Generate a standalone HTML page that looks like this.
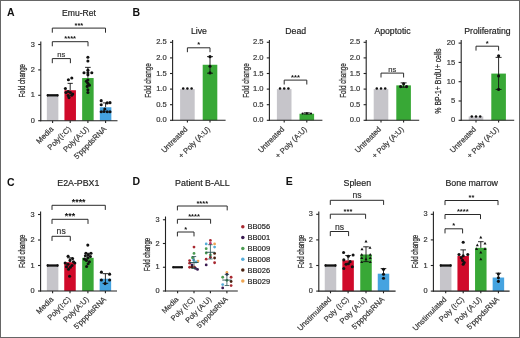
<!DOCTYPE html>
<html><head><meta charset="utf-8"><style>
html,body{margin:0;padding:0;background:#fff;overflow:hidden;width:520px;height:338px;}
#f{position:absolute;left:0;top:0;width:520px;height:338px;overflow:hidden;background:#fff;}
svg{position:absolute;left:0;top:0;will-change:transform;}
text{font-family:"Liberation Sans", sans-serif;}
</style></head><body><div id="f">
<svg width="520" height="338" viewBox="0 0 520 338" font-family='"Liberation Sans", sans-serif'>
<rect x="0" y="0" width="520" height="338" fill="#fff"/>
<rect x="46.85" y="95.30" width="11.50" height="25.40" fill="#c6c5ca"/>
<rect x="64.45" y="90.22" width="11.50" height="30.48" fill="#d00a2a"/>
<rect x="82.15" y="78.03" width="11.50" height="42.67" fill="#38a836"/>
<rect x="99.85" y="107.24" width="11.50" height="13.46" fill="#45a3e0"/>
<line x1="40.80" y1="41.50" x2="40.80" y2="121.20" stroke="#222" stroke-width="1.1"/>
<line x1="38.20" y1="120.70" x2="40.80" y2="120.70" stroke="#222" stroke-width="1.1"/>
<text x="34.90" y="122.80" font-size="7.4" text-anchor="end" font-weight="normal" fill="#333"  stroke="#333" stroke-width="0.18">0</text>
<line x1="38.20" y1="95.30" x2="40.80" y2="95.30" stroke="#222" stroke-width="1.1"/>
<text x="34.90" y="97.40" font-size="7.4" text-anchor="end" font-weight="normal" fill="#333"  stroke="#333" stroke-width="0.18">1</text>
<line x1="38.20" y1="69.90" x2="40.80" y2="69.90" stroke="#222" stroke-width="1.1"/>
<text x="34.90" y="72.00" font-size="7.4" text-anchor="end" font-weight="normal" fill="#333"  stroke="#333" stroke-width="0.18">2</text>
<line x1="38.20" y1="44.50" x2="40.80" y2="44.50" stroke="#222" stroke-width="1.1"/>
<text x="34.90" y="46.60" font-size="7.4" text-anchor="end" font-weight="normal" fill="#333"  stroke="#333" stroke-width="0.18">3</text>
<line x1="40.30" y1="120.70" x2="117.50" y2="120.70" stroke="#222" stroke-width="1.1"/>
<line x1="52.60" y1="120.70" x2="52.60" y2="122.90" stroke="#222" stroke-width="1.1"/>
<line x1="70.20" y1="120.70" x2="70.20" y2="122.90" stroke="#222" stroke-width="1.1"/>
<line x1="87.90" y1="120.70" x2="87.90" y2="122.90" stroke="#222" stroke-width="1.1"/>
<line x1="105.60" y1="120.70" x2="105.60" y2="122.90" stroke="#222" stroke-width="1.1"/>
<text x="79.00" y="16.20" font-size="8.6" text-anchor="middle" font-weight="normal" fill="#222"  stroke="#222" stroke-width="0.18">Emu-Ret</text>
<text transform="translate(53.90,129.50) rotate(-45)" font-size="7.6" text-anchor="end" font-weight="normal" fill="#333"  stroke="#333" stroke-width="0.18">Media</text>
<text transform="translate(71.50,129.50) rotate(-45)" font-size="7.6" text-anchor="end" font-weight="normal" fill="#333"  stroke="#333" stroke-width="0.18">Poly(I:C)</text>
<text transform="translate(89.20,129.50) rotate(-45)" font-size="7.6" text-anchor="end" font-weight="normal" fill="#333"  stroke="#333" stroke-width="0.18">Poly(A:U)</text>
<text transform="translate(106.90,129.50) rotate(-45)" font-size="7.6" text-anchor="end" font-weight="normal" fill="#333"  stroke="#333" stroke-width="0.18">5'pppdsRNA</text>
<text transform="translate(24.50,80.70) rotate(-90) scale(0.740,1)" font-size="8.2" font-weight="normal" text-anchor="middle" fill="#333" stroke="#333" stroke-width="0.28">Fold change</text>
<text x="7.00" y="16.30" font-size="10.5" text-anchor="start" font-weight="bold" fill="#111" >A</text>
<line x1="47.00" y1="95.30" x2="58.20" y2="95.30" stroke="#111" stroke-width="2.3" stroke-linecap="butt"/>
<circle cx="47.60" cy="95.30" r="1.15" fill="#111"/>
<circle cx="57.60" cy="95.30" r="1.15" fill="#111"/>
<circle cx="71.80" cy="78.03" r="1.55" fill="#111"/>
<circle cx="68.40" cy="79.81" r="1.55" fill="#111"/>
<circle cx="65.40" cy="88.44" r="1.55" fill="#111"/>
<circle cx="66.00" cy="92.51" r="1.55" fill="#111"/>
<circle cx="70.40" cy="92.51" r="1.55" fill="#111"/>
<circle cx="72.70" cy="94.03" r="1.55" fill="#111"/>
<circle cx="68.20" cy="95.55" r="1.55" fill="#111"/>
<circle cx="69.00" cy="97.59" r="1.55" fill="#111"/>
<circle cx="68.20" cy="91.49" r="1.55" fill="#111"/>
<circle cx="71.70" cy="95.30" r="1.55" fill="#111"/>
<line x1="70.20" y1="83.36" x2="70.20" y2="90.22" stroke="#111" stroke-width="0.9"/>
<line x1="67.60" y1="83.36" x2="72.80" y2="83.36" stroke="#111" stroke-width="0.9"/>
<circle cx="87.90" cy="57.20" r="1.55" fill="#111"/>
<circle cx="87.90" cy="61.01" r="1.55" fill="#111"/>
<circle cx="87.90" cy="70.15" r="1.55" fill="#111"/>
<circle cx="84.00" cy="72.69" r="1.55" fill="#111"/>
<circle cx="91.80" cy="72.69" r="1.55" fill="#111"/>
<circle cx="87.90" cy="72.69" r="1.55" fill="#111"/>
<circle cx="87.90" cy="74.73" r="1.55" fill="#111"/>
<circle cx="87.90" cy="80.06" r="1.55" fill="#111"/>
<circle cx="87.90" cy="83.36" r="1.55" fill="#111"/>
<circle cx="87.20" cy="86.41" r="1.55" fill="#111"/>
<circle cx="87.90" cy="89.71" r="1.55" fill="#111"/>
<circle cx="87.90" cy="92.51" r="1.55" fill="#111"/>
<circle cx="86.40" cy="81.33" r="1.55" fill="#111"/>
<circle cx="89.40" cy="85.14" r="1.55" fill="#111"/>
<line x1="87.90" y1="67.36" x2="87.90" y2="77.77" stroke="#111" stroke-width="0.9"/>
<line x1="85.10" y1="67.36" x2="90.70" y2="67.36" stroke="#111" stroke-width="0.9"/>
<circle cx="101.20" cy="100.63" r="1.55" fill="#111"/>
<circle cx="101.20" cy="104.70" r="1.55" fill="#111"/>
<circle cx="110.00" cy="102.67" r="1.55" fill="#111"/>
<circle cx="107.20" cy="102.92" r="1.55" fill="#111"/>
<circle cx="104.80" cy="109.02" r="1.55" fill="#111"/>
<circle cx="101.20" cy="111.81" r="1.55" fill="#111"/>
<circle cx="104.00" cy="111.56" r="1.55" fill="#111"/>
<circle cx="107.20" cy="111.81" r="1.55" fill="#111"/>
<circle cx="110.00" cy="111.81" r="1.55" fill="#111"/>
<line x1="105.60" y1="102.92" x2="105.60" y2="107.24" stroke="#111" stroke-width="0.9"/>
<line x1="102.80" y1="102.92" x2="108.40" y2="102.92" stroke="#111" stroke-width="0.9"/>
<path d="M52.30,63.20V58.60H70.40V63.20" fill="none" stroke="#2a2a2a" stroke-width="1.0"/>
<text x="61.35" y="57.10" font-size="7.6" text-anchor="middle" font-weight="normal" fill="#333"  stroke="#333" stroke-width="0.18">ns</text>
<path d="M52.30,46.30V41.70H88.00V46.30" fill="none" stroke="#2a2a2a" stroke-width="1.0"/>
<text x="70.15" y="41.30" font-size="7.5" text-anchor="middle" font-weight="bold" fill="#111" >****</text>
<path d="M52.30,32.70V28.10H105.50V32.70" fill="none" stroke="#2a2a2a" stroke-width="1.0"/>
<text x="78.90" y="27.70" font-size="7.5" text-anchor="middle" font-weight="bold" fill="#111" >***</text>
<rect x="46.85" y="265.50" width="11.50" height="25.50" fill="#c6c5ca"/>
<rect x="64.25" y="262.19" width="11.50" height="28.81" fill="#d00a2a"/>
<rect x="82.15" y="257.85" width="11.50" height="33.15" fill="#38a836"/>
<rect x="99.65" y="278.76" width="11.50" height="12.24" fill="#45a3e0"/>
<line x1="40.60" y1="211.50" x2="40.60" y2="291.50" stroke="#222" stroke-width="1.1"/>
<line x1="38.00" y1="291.00" x2="40.60" y2="291.00" stroke="#222" stroke-width="1.1"/>
<text x="34.70" y="293.10" font-size="7.4" text-anchor="end" font-weight="normal" fill="#333"  stroke="#333" stroke-width="0.18">0</text>
<line x1="38.00" y1="265.50" x2="40.60" y2="265.50" stroke="#222" stroke-width="1.1"/>
<text x="34.70" y="267.60" font-size="7.4" text-anchor="end" font-weight="normal" fill="#333"  stroke="#333" stroke-width="0.18">1</text>
<line x1="38.00" y1="240.00" x2="40.60" y2="240.00" stroke="#222" stroke-width="1.1"/>
<text x="34.70" y="242.10" font-size="7.4" text-anchor="end" font-weight="normal" fill="#333"  stroke="#333" stroke-width="0.18">2</text>
<line x1="38.00" y1="214.50" x2="40.60" y2="214.50" stroke="#222" stroke-width="1.1"/>
<text x="34.70" y="216.60" font-size="7.4" text-anchor="end" font-weight="normal" fill="#333"  stroke="#333" stroke-width="0.18">3</text>
<line x1="40.10" y1="291.00" x2="117.00" y2="291.00" stroke="#222" stroke-width="1.1"/>
<line x1="52.60" y1="291.00" x2="52.60" y2="293.20" stroke="#222" stroke-width="1.1"/>
<line x1="70.00" y1="291.00" x2="70.00" y2="293.20" stroke="#222" stroke-width="1.1"/>
<line x1="87.90" y1="291.00" x2="87.90" y2="293.20" stroke="#222" stroke-width="1.1"/>
<line x1="105.40" y1="291.00" x2="105.40" y2="293.20" stroke="#222" stroke-width="1.1"/>
<text x="78.30" y="185.50" font-size="8.8" text-anchor="middle" font-weight="normal" fill="#222"  stroke="#222" stroke-width="0.18">E2A-PBX1</text>
<text transform="translate(53.90,299.80) rotate(-45)" font-size="7.6" text-anchor="end" font-weight="normal" fill="#333"  stroke="#333" stroke-width="0.18">Media</text>
<text transform="translate(71.30,299.80) rotate(-45)" font-size="7.6" text-anchor="end" font-weight="normal" fill="#333"  stroke="#333" stroke-width="0.18">Poly(I:C)</text>
<text transform="translate(89.20,299.80) rotate(-45)" font-size="7.6" text-anchor="end" font-weight="normal" fill="#333"  stroke="#333" stroke-width="0.18">Poly(A:U)</text>
<text transform="translate(106.70,299.80) rotate(-45)" font-size="7.6" text-anchor="end" font-weight="normal" fill="#333"  stroke="#333" stroke-width="0.18">5'pppdsRNA</text>
<text transform="translate(24.60,251.40) rotate(-90) scale(0.740,1)" font-size="8.2" font-weight="normal" text-anchor="middle" fill="#333" stroke="#333" stroke-width="0.28">Fold change</text>
<text x="7.00" y="185.90" font-size="10.5" text-anchor="start" font-weight="bold" fill="#111" >C</text>
<line x1="47.00" y1="265.50" x2="58.20" y2="265.50" stroke="#111" stroke-width="2.3" stroke-linecap="butt"/>
<circle cx="47.60" cy="265.50" r="1.15" fill="#111"/>
<circle cx="57.60" cy="265.50" r="1.15" fill="#111"/>
<circle cx="68.10" cy="256.32" r="1.55" fill="#111"/>
<circle cx="72.60" cy="258.62" r="1.55" fill="#111"/>
<circle cx="70.00" cy="260.40" r="1.55" fill="#111"/>
<circle cx="65.20" cy="262.95" r="1.55" fill="#111"/>
<circle cx="74.80" cy="262.95" r="1.55" fill="#111"/>
<circle cx="68.00" cy="264.23" r="1.55" fill="#111"/>
<circle cx="72.00" cy="265.50" r="1.55" fill="#111"/>
<circle cx="70.40" cy="267.29" r="1.55" fill="#111"/>
<circle cx="68.50" cy="269.32" r="1.55" fill="#111"/>
<circle cx="69.60" cy="276.21" r="1.55" fill="#111"/>
<circle cx="66.50" cy="266.77" r="1.55" fill="#111"/>
<circle cx="73.50" cy="261.68" r="1.55" fill="#111"/>
<line x1="70.00" y1="257.85" x2="70.00" y2="262.19" stroke="#111" stroke-width="0.9"/>
<line x1="67.20" y1="257.85" x2="72.80" y2="257.85" stroke="#111" stroke-width="0.9"/>
<circle cx="87.80" cy="245.10" r="1.55" fill="#111"/>
<circle cx="85.90" cy="253.26" r="1.55" fill="#111"/>
<circle cx="91.00" cy="253.26" r="1.55" fill="#111"/>
<circle cx="88.40" cy="254.79" r="1.55" fill="#111"/>
<circle cx="85.40" cy="255.81" r="1.55" fill="#111"/>
<circle cx="90.40" cy="256.57" r="1.55" fill="#111"/>
<circle cx="87.90" cy="257.85" r="1.55" fill="#111"/>
<circle cx="86.40" cy="260.40" r="1.55" fill="#111"/>
<circle cx="89.40" cy="261.68" r="1.55" fill="#111"/>
<circle cx="88.10" cy="263.71" r="1.55" fill="#111"/>
<circle cx="86.60" cy="266.52" r="1.55" fill="#111"/>
<circle cx="84.40" cy="259.12" r="1.55" fill="#111"/>
<line x1="87.90" y1="253.26" x2="87.90" y2="257.85" stroke="#111" stroke-width="0.9"/>
<line x1="85.10" y1="253.26" x2="90.70" y2="253.26" stroke="#111" stroke-width="0.9"/>
<circle cx="101.40" cy="272.13" r="1.55" fill="#111"/>
<circle cx="109.60" cy="274.17" r="1.55" fill="#111"/>
<circle cx="101.40" cy="280.04" r="1.55" fill="#111"/>
<circle cx="109.60" cy="280.04" r="1.55" fill="#111"/>
<circle cx="105.10" cy="283.61" r="1.55" fill="#111"/>
<line x1="105.40" y1="273.66" x2="105.40" y2="283.35" stroke="#111" stroke-width="0.9"/>
<line x1="102.60" y1="283.35" x2="108.20" y2="283.35" stroke="#111" stroke-width="0.9"/>
<line x1="102.60" y1="273.66" x2="108.20" y2="273.66" stroke="#111" stroke-width="0.9"/>
<path d="M52.00,240.90V236.30H70.30V240.90" fill="none" stroke="#2a2a2a" stroke-width="1.0"/>
<text x="61.15" y="233.90" font-size="8.6" text-anchor="middle" font-weight="normal" fill="#333"  stroke="#333" stroke-width="0.18">ns</text>
<path d="M52.00,223.90V219.30H88.00V223.90" fill="none" stroke="#2a2a2a" stroke-width="1.0"/>
<text x="70.00" y="219.00" font-size="8.8" text-anchor="middle" font-weight="bold" fill="#111" >***</text>
<path d="M52.00,209.90V205.30H105.30V209.90" fill="none" stroke="#2a2a2a" stroke-width="1.0"/>
<text x="78.65" y="205.00" font-size="8.8" text-anchor="middle" font-weight="bold" fill="#111" >****</text>
<text x="132.50" y="15.80" font-size="10.5" text-anchor="start" font-weight="bold" fill="#111" >B</text>
<rect x="180.10" y="89.10" width="14.60" height="31.20" fill="#c6c5ca"/>
<rect x="202.70" y="64.76" width="14.60" height="55.54" fill="#38a836"/>
<line x1="172.60" y1="39.90" x2="172.60" y2="120.80" stroke="#222" stroke-width="1.1"/>
<line x1="170.00" y1="120.30" x2="172.60" y2="120.30" stroke="#222" stroke-width="1.1"/>
<text x="166.70" y="122.40" font-size="7.6" text-anchor="end" font-weight="normal" fill="#333"  stroke="#333" stroke-width="0.18">0.0</text>
<line x1="170.00" y1="104.70" x2="172.60" y2="104.70" stroke="#222" stroke-width="1.1"/>
<text x="166.70" y="106.80" font-size="7.6" text-anchor="end" font-weight="normal" fill="#333"  stroke="#333" stroke-width="0.18">0.5</text>
<line x1="170.00" y1="89.10" x2="172.60" y2="89.10" stroke="#222" stroke-width="1.1"/>
<text x="166.70" y="91.20" font-size="7.6" text-anchor="end" font-weight="normal" fill="#333"  stroke="#333" stroke-width="0.18">1.0</text>
<line x1="170.00" y1="73.50" x2="172.60" y2="73.50" stroke="#222" stroke-width="1.1"/>
<text x="166.70" y="75.60" font-size="7.6" text-anchor="end" font-weight="normal" fill="#333"  stroke="#333" stroke-width="0.18">1.5</text>
<line x1="170.00" y1="57.90" x2="172.60" y2="57.90" stroke="#222" stroke-width="1.1"/>
<text x="166.70" y="60.00" font-size="7.6" text-anchor="end" font-weight="normal" fill="#333"  stroke="#333" stroke-width="0.18">2.0</text>
<line x1="170.00" y1="42.30" x2="172.60" y2="42.30" stroke="#222" stroke-width="1.1"/>
<text x="166.70" y="44.40" font-size="7.6" text-anchor="end" font-weight="normal" fill="#333"  stroke="#333" stroke-width="0.18">2.5</text>
<line x1="172.10" y1="120.30" x2="225.60" y2="120.30" stroke="#222" stroke-width="1.1"/>
<line x1="187.40" y1="120.30" x2="187.40" y2="122.50" stroke="#222" stroke-width="1.1"/>
<line x1="210.00" y1="120.30" x2="210.00" y2="122.50" stroke="#222" stroke-width="1.1"/>
<text x="198.90" y="34.20" font-size="8.7" text-anchor="middle" font-weight="normal" fill="#222"  stroke="#222" stroke-width="0.18">Live</text>
<text transform="translate(188.00,129.70) rotate(-45)" font-size="7.6" text-anchor="end" font-weight="normal" fill="#333"  stroke="#333" stroke-width="0.18">Untreated</text>
<text transform="translate(210.60,129.70) rotate(-45)" font-size="7.6" text-anchor="end" font-weight="normal" fill="#333"  stroke="#333" stroke-width="0.18">+ Poly (A:U)</text>
<text transform="translate(151.00,80.50) rotate(-90) scale(0.690,1)" font-size="9.1" font-weight="normal" text-anchor="middle" fill="#333" stroke="#333" stroke-width="0.28">Fold change</text>
<circle cx="183.20" cy="88.48" r="1.25" fill="#111"/>
<circle cx="187.40" cy="88.48" r="1.25" fill="#111"/>
<circle cx="191.60" cy="88.48" r="1.25" fill="#111"/>
<circle cx="210.00" cy="56.65" r="1.55" fill="#111"/>
<circle cx="210.00" cy="66.32" r="1.55" fill="#111"/>
<circle cx="210.00" cy="72.88" r="1.55" fill="#111"/>
<line x1="210.00" y1="56.65" x2="210.00" y2="73.19" stroke="#111" stroke-width="0.9"/>
<line x1="207.00" y1="73.19" x2="213.00" y2="73.19" stroke="#111" stroke-width="0.9"/>
<line x1="207.00" y1="56.65" x2="213.00" y2="56.65" stroke="#111" stroke-width="0.9"/>
<path d="M187.40,52.20V47.80H210.00V52.20" fill="none" stroke="#2a2a2a" stroke-width="1.0"/>
<text x="198.70" y="47.40" font-size="7.5" text-anchor="middle" font-weight="bold" fill="#111" >*</text>
<rect x="276.90" y="89.10" width="14.60" height="31.20" fill="#c6c5ca"/>
<rect x="299.50" y="113.75" width="14.60" height="6.55" fill="#38a836"/>
<line x1="269.40" y1="39.90" x2="269.40" y2="120.80" stroke="#222" stroke-width="1.1"/>
<line x1="266.80" y1="120.30" x2="269.40" y2="120.30" stroke="#222" stroke-width="1.1"/>
<text x="263.50" y="122.40" font-size="7.6" text-anchor="end" font-weight="normal" fill="#333"  stroke="#333" stroke-width="0.18">0.0</text>
<line x1="266.80" y1="104.70" x2="269.40" y2="104.70" stroke="#222" stroke-width="1.1"/>
<text x="263.50" y="106.80" font-size="7.6" text-anchor="end" font-weight="normal" fill="#333"  stroke="#333" stroke-width="0.18">0.5</text>
<line x1="266.80" y1="89.10" x2="269.40" y2="89.10" stroke="#222" stroke-width="1.1"/>
<text x="263.50" y="91.20" font-size="7.6" text-anchor="end" font-weight="normal" fill="#333"  stroke="#333" stroke-width="0.18">1.0</text>
<line x1="266.80" y1="73.50" x2="269.40" y2="73.50" stroke="#222" stroke-width="1.1"/>
<text x="263.50" y="75.60" font-size="7.6" text-anchor="end" font-weight="normal" fill="#333"  stroke="#333" stroke-width="0.18">1.5</text>
<line x1="266.80" y1="57.90" x2="269.40" y2="57.90" stroke="#222" stroke-width="1.1"/>
<text x="263.50" y="60.00" font-size="7.6" text-anchor="end" font-weight="normal" fill="#333"  stroke="#333" stroke-width="0.18">2.0</text>
<line x1="266.80" y1="42.30" x2="269.40" y2="42.30" stroke="#222" stroke-width="1.1"/>
<text x="263.50" y="44.40" font-size="7.6" text-anchor="end" font-weight="normal" fill="#333"  stroke="#333" stroke-width="0.18">2.5</text>
<line x1="268.90" y1="120.30" x2="322.40" y2="120.30" stroke="#222" stroke-width="1.1"/>
<line x1="284.20" y1="120.30" x2="284.20" y2="122.50" stroke="#222" stroke-width="1.1"/>
<line x1="306.80" y1="120.30" x2="306.80" y2="122.50" stroke="#222" stroke-width="1.1"/>
<text x="295.70" y="34.20" font-size="8.7" text-anchor="middle" font-weight="normal" fill="#222"  stroke="#222" stroke-width="0.18">Dead</text>
<text transform="translate(284.80,129.70) rotate(-45)" font-size="7.6" text-anchor="end" font-weight="normal" fill="#333"  stroke="#333" stroke-width="0.18">Untreated</text>
<text transform="translate(307.40,129.70) rotate(-45)" font-size="7.6" text-anchor="end" font-weight="normal" fill="#333"  stroke="#333" stroke-width="0.18">+ Poly (A:U)</text>
<text transform="translate(248.50,80.50) rotate(-90) scale(0.690,1)" font-size="9.1" font-weight="normal" text-anchor="middle" fill="#333" stroke="#333" stroke-width="0.28">Fold change</text>
<circle cx="280.00" cy="88.48" r="1.25" fill="#111"/>
<circle cx="284.20" cy="88.48" r="1.25" fill="#111"/>
<circle cx="288.40" cy="88.48" r="1.25" fill="#111"/>
<circle cx="302.60" cy="113.59" r="1.1" fill="#111"/>
<circle cx="306.80" cy="113.28" r="1.1" fill="#111"/>
<circle cx="311.00" cy="113.59" r="1.1" fill="#111"/>
<line x1="306.80" y1="112.81" x2="306.80" y2="114.06" stroke="#111" stroke-width="0.9"/>
<line x1="303.80" y1="114.06" x2="309.80" y2="114.06" stroke="#111" stroke-width="0.9"/>
<line x1="303.80" y1="112.81" x2="309.80" y2="112.81" stroke="#111" stroke-width="0.9"/>
<path d="M284.20,84.50V80.10H306.80V84.50" fill="none" stroke="#2a2a2a" stroke-width="1.0"/>
<text x="295.50" y="79.70" font-size="7.5" text-anchor="middle" font-weight="bold" fill="#111" >***</text>
<rect x="373.70" y="89.10" width="14.60" height="31.20" fill="#c6c5ca"/>
<rect x="396.30" y="85.36" width="14.60" height="34.94" fill="#38a836"/>
<line x1="366.20" y1="39.90" x2="366.20" y2="120.80" stroke="#222" stroke-width="1.1"/>
<line x1="363.60" y1="120.30" x2="366.20" y2="120.30" stroke="#222" stroke-width="1.1"/>
<text x="360.30" y="122.40" font-size="7.6" text-anchor="end" font-weight="normal" fill="#333"  stroke="#333" stroke-width="0.18">0.0</text>
<line x1="363.60" y1="104.70" x2="366.20" y2="104.70" stroke="#222" stroke-width="1.1"/>
<text x="360.30" y="106.80" font-size="7.6" text-anchor="end" font-weight="normal" fill="#333"  stroke="#333" stroke-width="0.18">0.5</text>
<line x1="363.60" y1="89.10" x2="366.20" y2="89.10" stroke="#222" stroke-width="1.1"/>
<text x="360.30" y="91.20" font-size="7.6" text-anchor="end" font-weight="normal" fill="#333"  stroke="#333" stroke-width="0.18">1.0</text>
<line x1="363.60" y1="73.50" x2="366.20" y2="73.50" stroke="#222" stroke-width="1.1"/>
<text x="360.30" y="75.60" font-size="7.6" text-anchor="end" font-weight="normal" fill="#333"  stroke="#333" stroke-width="0.18">1.5</text>
<line x1="363.60" y1="57.90" x2="366.20" y2="57.90" stroke="#222" stroke-width="1.1"/>
<text x="360.30" y="60.00" font-size="7.6" text-anchor="end" font-weight="normal" fill="#333"  stroke="#333" stroke-width="0.18">2.0</text>
<line x1="363.60" y1="42.30" x2="366.20" y2="42.30" stroke="#222" stroke-width="1.1"/>
<text x="360.30" y="44.40" font-size="7.6" text-anchor="end" font-weight="normal" fill="#333"  stroke="#333" stroke-width="0.18">2.5</text>
<line x1="365.70" y1="120.30" x2="419.20" y2="120.30" stroke="#222" stroke-width="1.1"/>
<line x1="381.00" y1="120.30" x2="381.00" y2="122.50" stroke="#222" stroke-width="1.1"/>
<line x1="403.60" y1="120.30" x2="403.60" y2="122.50" stroke="#222" stroke-width="1.1"/>
<text x="392.50" y="34.20" font-size="8.7" text-anchor="middle" font-weight="normal" fill="#222"  stroke="#222" stroke-width="0.18">Apoptotic</text>
<text transform="translate(381.60,129.70) rotate(-45)" font-size="7.6" text-anchor="end" font-weight="normal" fill="#333"  stroke="#333" stroke-width="0.18">Untreated</text>
<text transform="translate(404.20,129.70) rotate(-45)" font-size="7.6" text-anchor="end" font-weight="normal" fill="#333"  stroke="#333" stroke-width="0.18">+ Poly (A:U)</text>
<text transform="translate(345.50,80.50) rotate(-90) scale(0.690,1)" font-size="9.1" font-weight="normal" text-anchor="middle" fill="#333" stroke="#333" stroke-width="0.28">Fold change</text>
<circle cx="376.80" cy="88.48" r="1.25" fill="#111"/>
<circle cx="381.00" cy="88.48" r="1.25" fill="#111"/>
<circle cx="385.20" cy="88.48" r="1.25" fill="#111"/>
<circle cx="400.60" cy="86.60" r="1.55" fill="#111"/>
<circle cx="403.60" cy="83.80" r="1.55" fill="#111"/>
<circle cx="406.60" cy="86.60" r="1.55" fill="#111"/>
<line x1="403.60" y1="82.86" x2="403.60" y2="87.23" stroke="#111" stroke-width="0.9"/>
<line x1="400.60" y1="87.23" x2="406.60" y2="87.23" stroke="#111" stroke-width="0.9"/>
<line x1="400.60" y1="82.86" x2="406.60" y2="82.86" stroke="#111" stroke-width="0.9"/>
<path d="M381.00,77.50V73.10H403.60V77.50" fill="none" stroke="#2a2a2a" stroke-width="1.0"/>
<text x="392.30" y="71.70" font-size="7.6" text-anchor="middle" font-weight="normal" fill="#333"  stroke="#333" stroke-width="0.18">ns</text>
<rect x="468.70" y="116.44" width="14.60" height="3.86" fill="#c6c5ca"/>
<rect x="491.30" y="73.59" width="14.60" height="46.71" fill="#38a836"/>
<line x1="461.20" y1="39.90" x2="461.20" y2="120.80" stroke="#222" stroke-width="1.1"/>
<line x1="458.60" y1="120.30" x2="461.20" y2="120.30" stroke="#222" stroke-width="1.1"/>
<text x="455.30" y="122.40" font-size="7.6" text-anchor="end" font-weight="normal" fill="#333"  stroke="#333" stroke-width="0.18">0</text>
<line x1="458.60" y1="101.00" x2="461.20" y2="101.00" stroke="#222" stroke-width="1.1"/>
<text x="455.30" y="103.10" font-size="7.6" text-anchor="end" font-weight="normal" fill="#333"  stroke="#333" stroke-width="0.18">5</text>
<line x1="458.60" y1="81.70" x2="461.20" y2="81.70" stroke="#222" stroke-width="1.1"/>
<text x="455.30" y="83.80" font-size="7.6" text-anchor="end" font-weight="normal" fill="#333"  stroke="#333" stroke-width="0.18">10</text>
<line x1="458.60" y1="62.40" x2="461.20" y2="62.40" stroke="#222" stroke-width="1.1"/>
<text x="455.30" y="64.50" font-size="7.6" text-anchor="end" font-weight="normal" fill="#333"  stroke="#333" stroke-width="0.18">15</text>
<line x1="458.60" y1="43.10" x2="461.20" y2="43.10" stroke="#222" stroke-width="1.1"/>
<text x="455.30" y="45.20" font-size="7.6" text-anchor="end" font-weight="normal" fill="#333"  stroke="#333" stroke-width="0.18">20</text>
<line x1="460.70" y1="120.30" x2="514.20" y2="120.30" stroke="#222" stroke-width="1.1"/>
<line x1="476.00" y1="120.30" x2="476.00" y2="122.50" stroke="#222" stroke-width="1.1"/>
<line x1="498.60" y1="120.30" x2="498.60" y2="122.50" stroke="#222" stroke-width="1.1"/>
<text x="487.50" y="34.20" font-size="8.7" text-anchor="middle" font-weight="normal" fill="#222"  stroke="#222" stroke-width="0.18">Proliferating</text>
<text transform="translate(476.60,129.70) rotate(-45)" font-size="7.6" text-anchor="end" font-weight="normal" fill="#333"  stroke="#333" stroke-width="0.18">Untreated</text>
<text transform="translate(499.20,129.70) rotate(-45)" font-size="7.6" text-anchor="end" font-weight="normal" fill="#333"  stroke="#333" stroke-width="0.18">+ Poly (A:U)</text>
<text transform="translate(441.20,81.10) rotate(-90) scale(0.710,1)" font-size="9.8" font-weight="normal" text-anchor="middle" fill="#333" stroke="#333" stroke-width="0.28">% BP-1+ BrdU+ cells</text>
<circle cx="471.80" cy="116.44" r="1.25" fill="#111"/>
<circle cx="476.00" cy="116.44" r="1.25" fill="#111"/>
<circle cx="480.20" cy="116.44" r="1.25" fill="#111"/>
<circle cx="498.60" cy="55.84" r="1.55" fill="#111"/>
<circle cx="498.60" cy="75.91" r="1.55" fill="#111"/>
<circle cx="498.60" cy="89.42" r="1.55" fill="#111"/>
<line x1="498.60" y1="57.38" x2="498.60" y2="89.42" stroke="#111" stroke-width="0.9"/>
<line x1="495.60" y1="89.42" x2="501.60" y2="89.42" stroke="#111" stroke-width="0.9"/>
<line x1="495.60" y1="57.38" x2="501.60" y2="57.38" stroke="#111" stroke-width="0.9"/>
<path d="M476.00,50.60V46.20H498.60V50.60" fill="none" stroke="#2a2a2a" stroke-width="1.0"/>
<text x="487.30" y="45.80" font-size="7.5" text-anchor="middle" font-weight="bold" fill="#111" >*</text>
<text x="132.40" y="185.30" font-size="10.5" text-anchor="start" font-weight="bold" fill="#111" >D</text>
<line x1="165.50" y1="216.50" x2="165.50" y2="291.50" stroke="#222" stroke-width="1.1"/>
<line x1="162.90" y1="291.00" x2="165.50" y2="291.00" stroke="#222" stroke-width="1.1"/>
<text x="159.60" y="293.10" font-size="7.4" text-anchor="end" font-weight="normal" fill="#333"  stroke="#333" stroke-width="0.18">0</text>
<line x1="162.90" y1="267.25" x2="165.50" y2="267.25" stroke="#222" stroke-width="1.1"/>
<text x="159.60" y="269.35" font-size="7.4" text-anchor="end" font-weight="normal" fill="#333"  stroke="#333" stroke-width="0.18">1</text>
<line x1="162.90" y1="243.50" x2="165.50" y2="243.50" stroke="#222" stroke-width="1.1"/>
<text x="159.60" y="245.60" font-size="7.4" text-anchor="end" font-weight="normal" fill="#333"  stroke="#333" stroke-width="0.18">2</text>
<line x1="162.90" y1="219.75" x2="165.50" y2="219.75" stroke="#222" stroke-width="1.1"/>
<text x="159.60" y="221.85" font-size="7.4" text-anchor="end" font-weight="normal" fill="#333"  stroke="#333" stroke-width="0.18">3</text>
<line x1="165.00" y1="291.00" x2="237.80" y2="291.00" stroke="#222" stroke-width="1.1"/>
<line x1="177.60" y1="291.00" x2="177.60" y2="293.20" stroke="#222" stroke-width="1.1"/>
<line x1="194.00" y1="291.00" x2="194.00" y2="293.20" stroke="#222" stroke-width="1.1"/>
<line x1="210.40" y1="291.00" x2="210.40" y2="293.20" stroke="#222" stroke-width="1.1"/>
<line x1="226.90" y1="291.00" x2="226.90" y2="293.20" stroke="#222" stroke-width="1.1"/>
<text x="202.40" y="185.50" font-size="8.85" text-anchor="middle" font-weight="normal" fill="#222"  stroke="#222" stroke-width="0.18">Patient B-ALL</text>
<text transform="translate(178.90,299.80) rotate(-45)" font-size="7.3" text-anchor="end" font-weight="normal" fill="#333"  stroke="#333" stroke-width="0.18">Media</text>
<text transform="translate(195.30,299.80) rotate(-45)" font-size="7.3" text-anchor="end" font-weight="normal" fill="#333"  stroke="#333" stroke-width="0.18">Poly (I:C)</text>
<text transform="translate(211.70,299.80) rotate(-45)" font-size="7.3" text-anchor="end" font-weight="normal" fill="#333"  stroke="#333" stroke-width="0.18">Poly (A:U)</text>
<text transform="translate(228.20,299.80) rotate(-45)" font-size="7.3" text-anchor="end" font-weight="normal" fill="#333"  stroke="#333" stroke-width="0.18">5'pppdsRNA</text>
<text transform="translate(149.60,254.50) rotate(-90) scale(0.740,1)" font-size="8.2" font-weight="normal" text-anchor="middle" fill="#333" stroke="#333" stroke-width="0.28">Fold change</text>
<line x1="172.60" y1="267.25" x2="182.60" y2="267.25" stroke="#111" stroke-width="2.2" stroke-linecap="butt"/>
<circle cx="173.20" cy="267.25" r="1.1" fill="#111"/>
<circle cx="182.00" cy="267.25" r="1.1" fill="#111"/>
<circle cx="194.00" cy="247.06" r="1.4" fill="#a82830"/>
<circle cx="194.00" cy="253.47" r="1.4" fill="#4c9c52"/>
<circle cx="192.50" cy="257.75" r="1.4" fill="#4c9c52"/>
<circle cx="193.50" cy="260.12" r="1.4" fill="#55acd8"/>
<circle cx="198.00" cy="261.07" r="1.4" fill="#eda552"/>
<circle cx="189.60" cy="260.60" r="1.4" fill="#a82830"/>
<circle cx="189.60" cy="263.21" r="1.4" fill="#a82830"/>
<circle cx="192.00" cy="264.88" r="1.4" fill="#3a1a50"/>
<circle cx="189.60" cy="267.25" r="1.4" fill="#a82830"/>
<circle cx="192.00" cy="267.25" r="1.4" fill="#4a2210"/>
<circle cx="194.50" cy="267.25" r="1.4" fill="#a82830"/>
<circle cx="195.50" cy="268.44" r="1.4" fill="#3a1a50"/>
<circle cx="197.50" cy="269.39" r="1.4" fill="#3a1a50"/>
<circle cx="196.00" cy="262.02" r="1.4" fill="#55acd8"/>
<line x1="189.40" y1="262.50" x2="198.60" y2="262.50" stroke="#24504f" stroke-width="0.9"/>
<line x1="194.00" y1="268.44" x2="194.00" y2="256.56" stroke="#24504f" stroke-width="0.8"/>
<line x1="191.80" y1="256.56" x2="196.20" y2="256.56" stroke="#24504f" stroke-width="0.8"/>
<line x1="191.80" y1="268.44" x2="196.20" y2="268.44" stroke="#24504f" stroke-width="0.8"/>
<circle cx="210.40" cy="240.41" r="1.4" fill="#a82830"/>
<circle cx="206.20" cy="243.97" r="1.4" fill="#55acd8"/>
<circle cx="210.40" cy="243.50" r="1.4" fill="#c0306a"/>
<circle cx="214.60" cy="243.97" r="1.4" fill="#eda552"/>
<circle cx="214.60" cy="247.06" r="1.4" fill="#55acd8"/>
<circle cx="206.20" cy="248.72" r="1.4" fill="#4c9c52"/>
<circle cx="206.20" cy="253.00" r="1.4" fill="#4c9c52"/>
<circle cx="214.60" cy="253.47" r="1.4" fill="#4a2210"/>
<circle cx="210.40" cy="254.90" r="1.4" fill="#4c9c52"/>
<circle cx="206.20" cy="259.18" r="1.4" fill="#a82830"/>
<circle cx="210.40" cy="257.27" r="1.4" fill="#a82830"/>
<circle cx="214.60" cy="257.99" r="1.4" fill="#4a2210"/>
<circle cx="214.60" cy="262.74" r="1.4" fill="#a82830"/>
<circle cx="206.20" cy="264.88" r="1.4" fill="#3a1a50"/>
<line x1="205.80" y1="252.29" x2="215.00" y2="252.29" stroke="#24504f" stroke-width="0.9"/>
<line x1="210.40" y1="258.94" x2="210.40" y2="244.69" stroke="#24504f" stroke-width="0.8"/>
<line x1="208.20" y1="244.69" x2="212.60" y2="244.69" stroke="#24504f" stroke-width="0.8"/>
<line x1="208.20" y1="258.94" x2="212.60" y2="258.94" stroke="#24504f" stroke-width="0.8"/>
<circle cx="226.90" cy="272.48" r="1.4" fill="#eda552"/>
<circle cx="226.90" cy="274.38" r="1.4" fill="#3a1a50"/>
<circle cx="222.70" cy="277.23" r="1.4" fill="#4c9c52"/>
<circle cx="231.10" cy="277.23" r="1.4" fill="#a82830"/>
<circle cx="226.90" cy="280.31" r="1.4" fill="#4c9c52"/>
<circle cx="231.10" cy="281.50" r="1.4" fill="#4a2210"/>
<circle cx="222.70" cy="284.59" r="1.4" fill="#55acd8"/>
<circle cx="231.10" cy="285.54" r="1.4" fill="#a82830"/>
<circle cx="222.70" cy="287.91" r="1.4" fill="#3a1a50"/>
<line x1="222.30" y1="280.07" x2="231.50" y2="280.07" stroke="#24504f" stroke-width="0.9"/>
<line x1="226.90" y1="285.54" x2="226.90" y2="274.38" stroke="#24504f" stroke-width="0.8"/>
<line x1="224.70" y1="274.38" x2="229.10" y2="274.38" stroke="#24504f" stroke-width="0.8"/>
<line x1="224.70" y1="285.54" x2="229.10" y2="285.54" stroke="#24504f" stroke-width="0.8"/>
<path d="M177.40,236.40V232.00H194.00V236.40" fill="none" stroke="#2a2a2a" stroke-width="1.0"/>
<text x="185.70" y="231.60" font-size="7.5" text-anchor="middle" font-weight="bold" fill="#111" >*</text>
<path d="M177.40,223.70V219.30H210.60V223.70" fill="none" stroke="#2a2a2a" stroke-width="1.0"/>
<text x="194.00" y="218.90" font-size="7.5" text-anchor="middle" font-weight="bold" fill="#111" >****</text>
<path d="M177.40,210.40V206.00H227.20V210.40" fill="none" stroke="#2a2a2a" stroke-width="1.0"/>
<text x="202.30" y="205.60" font-size="7.5" text-anchor="middle" font-weight="bold" fill="#111" >****</text>
<circle cx="242.80" cy="226.70" r="1.75" fill="#a82830"/>
<text x="247.60" y="229.30" font-size="7.5" text-anchor="start" font-weight="normal" fill="#222"  stroke="#222" stroke-width="0.18">BB056</text>
<circle cx="242.80" cy="237.55" r="1.75" fill="#3a1a50"/>
<text x="247.60" y="240.15" font-size="7.5" text-anchor="start" font-weight="normal" fill="#222"  stroke="#222" stroke-width="0.18">BB001</text>
<circle cx="242.80" cy="248.40" r="1.75" fill="#4c9c52"/>
<text x="247.60" y="251.00" font-size="7.5" text-anchor="start" font-weight="normal" fill="#222"  stroke="#222" stroke-width="0.18">BB009</text>
<circle cx="242.80" cy="259.25" r="1.75" fill="#55acd8"/>
<text x="247.60" y="261.85" font-size="7.5" text-anchor="start" font-weight="normal" fill="#222"  stroke="#222" stroke-width="0.18">BB008</text>
<circle cx="242.80" cy="270.10" r="1.75" fill="#4a2210"/>
<text x="247.60" y="272.70" font-size="7.5" text-anchor="start" font-weight="normal" fill="#222"  stroke="#222" stroke-width="0.18">BB026</text>
<circle cx="242.80" cy="280.95" r="1.75" fill="#eda552"/>
<text x="247.60" y="283.55" font-size="7.5" text-anchor="start" font-weight="normal" fill="#222"  stroke="#222" stroke-width="0.18">BB029</text>
<text x="285.80" y="185.30" font-size="10.5" text-anchor="start" font-weight="bold" fill="#111" >E</text>
<rect x="324.75" y="265.50" width="11.50" height="25.60" fill="#c6c5ca"/>
<rect x="342.35" y="260.38" width="11.50" height="30.72" fill="#d00a2a"/>
<rect x="360.25" y="254.49" width="11.50" height="36.61" fill="#38a836"/>
<rect x="377.75" y="273.69" width="11.50" height="17.41" fill="#45a3e0"/>
<line x1="318.80" y1="211.50" x2="318.80" y2="291.60" stroke="#222" stroke-width="1.1"/>
<line x1="316.20" y1="291.10" x2="318.80" y2="291.10" stroke="#222" stroke-width="1.1"/>
<text x="312.90" y="293.20" font-size="7.4" text-anchor="end" font-weight="normal" fill="#333"  stroke="#333" stroke-width="0.18">0</text>
<line x1="316.20" y1="265.50" x2="318.80" y2="265.50" stroke="#222" stroke-width="1.1"/>
<text x="312.90" y="267.60" font-size="7.4" text-anchor="end" font-weight="normal" fill="#333"  stroke="#333" stroke-width="0.18">1</text>
<line x1="316.20" y1="239.90" x2="318.80" y2="239.90" stroke="#222" stroke-width="1.1"/>
<text x="312.90" y="242.00" font-size="7.4" text-anchor="end" font-weight="normal" fill="#333"  stroke="#333" stroke-width="0.18">2</text>
<line x1="316.20" y1="214.30" x2="318.80" y2="214.30" stroke="#222" stroke-width="1.1"/>
<text x="312.90" y="216.40" font-size="7.4" text-anchor="end" font-weight="normal" fill="#333"  stroke="#333" stroke-width="0.18">3</text>
<line x1="318.30" y1="291.10" x2="395.60" y2="291.10" stroke="#222" stroke-width="1.1"/>
<line x1="330.50" y1="291.10" x2="330.50" y2="293.30" stroke="#222" stroke-width="1.1"/>
<line x1="348.10" y1="291.10" x2="348.10" y2="293.30" stroke="#222" stroke-width="1.1"/>
<line x1="366.00" y1="291.10" x2="366.00" y2="293.30" stroke="#222" stroke-width="1.1"/>
<line x1="383.50" y1="291.10" x2="383.50" y2="293.30" stroke="#222" stroke-width="1.1"/>
<text x="357.30" y="185.70" font-size="8.85" text-anchor="middle" font-weight="normal" fill="#222"  stroke="#222" stroke-width="0.18">Spleen</text>
<text transform="translate(331.80,299.90) rotate(-45)" font-size="7.6" text-anchor="end" font-weight="normal" fill="#333"  stroke="#333" stroke-width="0.18">Unstimulated</text>
<text transform="translate(349.40,299.90) rotate(-45)" font-size="7.6" text-anchor="end" font-weight="normal" fill="#333"  stroke="#333" stroke-width="0.18">Poly (I:C)</text>
<text transform="translate(367.30,299.90) rotate(-45)" font-size="7.6" text-anchor="end" font-weight="normal" fill="#333"  stroke="#333" stroke-width="0.18">Poly (A:U)</text>
<text transform="translate(384.80,299.90) rotate(-45)" font-size="7.6" text-anchor="end" font-weight="normal" fill="#333"  stroke="#333" stroke-width="0.18">5'pppdsRNA</text>
<text transform="translate(304.00,251.50) rotate(-90) scale(0.740,1)" font-size="8.2" font-weight="normal" text-anchor="middle" fill="#333" stroke="#333" stroke-width="0.28">Fold change</text>
<line x1="324.90" y1="265.50" x2="336.10" y2="265.50" stroke="#111" stroke-width="2.3" stroke-linecap="butt"/>
<circle cx="325.50" cy="265.50" r="1.15" fill="#111"/>
<circle cx="335.50" cy="265.50" r="1.15" fill="#111"/>
<circle cx="343.60" cy="252.44" r="1.55" fill="#111"/>
<circle cx="353.10" cy="255.00" r="1.55" fill="#111"/>
<circle cx="348.30" cy="256.28" r="1.55" fill="#111"/>
<circle cx="343.80" cy="259.87" r="1.55" fill="#111"/>
<circle cx="350.10" cy="261.66" r="1.55" fill="#111"/>
<circle cx="348.40" cy="263.71" r="1.55" fill="#111"/>
<circle cx="352.30" cy="266.78" r="1.55" fill="#111"/>
<circle cx="343.80" cy="268.57" r="1.55" fill="#111"/>
<circle cx="346.10" cy="264.22" r="1.55" fill="#111"/>
<line x1="348.10" y1="255.52" x2="348.10" y2="260.38" stroke="#111" stroke-width="0.9"/>
<line x1="345.30" y1="255.52" x2="350.90" y2="255.52" stroke="#111" stroke-width="0.9"/>
<path d="M366.00,239.68L367.50,242.38L364.50,242.38Z" fill="#111"/>
<path d="M362.00,247.62L363.50,250.32L360.50,250.32Z" fill="#111"/>
<path d="M370.00,246.08L371.50,248.78L368.50,248.78Z" fill="#111"/>
<path d="M361.80,252.99L363.30,255.69L360.30,255.69Z" fill="#111"/>
<path d="M370.20,252.99L371.70,255.69L368.70,255.69Z" fill="#111"/>
<path d="M361.80,256.32L363.30,259.02L360.30,259.02Z" fill="#111"/>
<path d="M370.20,256.32L371.70,259.02L368.70,259.02Z" fill="#111"/>
<path d="M361.80,260.42L363.30,263.12L360.30,263.12Z" fill="#111"/>
<path d="M370.20,260.42L371.70,263.12L368.70,263.12Z" fill="#111"/>
<path d="M366.00,257.60L367.50,260.30L364.50,260.30Z" fill="#111"/>
<line x1="366.00" y1="246.81" x2="366.00" y2="261.66" stroke="#111" stroke-width="0.9"/>
<line x1="363.20" y1="261.66" x2="368.80" y2="261.66" stroke="#111" stroke-width="0.9"/>
<line x1="363.20" y1="246.81" x2="368.80" y2="246.81" stroke="#111" stroke-width="0.9"/>
<circle cx="383.50" cy="269.34" r="1.55" fill="#111"/>
<circle cx="383.50" cy="274.20" r="1.55" fill="#111"/>
<circle cx="383.50" cy="278.30" r="1.55" fill="#111"/>
<line x1="383.50" y1="268.57" x2="383.50" y2="273.69" stroke="#111" stroke-width="0.9"/>
<line x1="380.70" y1="268.57" x2="386.30" y2="268.57" stroke="#111" stroke-width="0.9"/>
<path d="M330.30,236.10V231.50H348.60V236.10" fill="none" stroke="#2a2a2a" stroke-width="1.0"/>
<text x="339.45" y="229.50" font-size="8.6" text-anchor="middle" font-weight="normal" fill="#333"  stroke="#333" stroke-width="0.18">ns</text>
<path d="M330.30,218.80V214.20H365.60V218.80" fill="none" stroke="#2a2a2a" stroke-width="1.0"/>
<text x="347.95" y="213.80" font-size="7.5" text-anchor="middle" font-weight="bold" fill="#111" >***</text>
<path d="M330.30,204.90V200.30H383.60V204.90" fill="none" stroke="#2a2a2a" stroke-width="1.0"/>
<text x="356.95" y="198.30" font-size="8.6" text-anchor="middle" font-weight="normal" fill="#333"  stroke="#333" stroke-width="0.18">ns</text>
<rect x="439.95" y="265.50" width="11.50" height="25.60" fill="#c6c5ca"/>
<rect x="457.45" y="256.03" width="11.50" height="35.07" fill="#d00a2a"/>
<rect x="475.05" y="247.84" width="11.50" height="43.26" fill="#38a836"/>
<rect x="492.65" y="277.53" width="11.50" height="13.57" fill="#45a3e0"/>
<line x1="433.40" y1="211.50" x2="433.40" y2="291.60" stroke="#222" stroke-width="1.1"/>
<line x1="430.80" y1="291.10" x2="433.40" y2="291.10" stroke="#222" stroke-width="1.1"/>
<text x="427.50" y="293.20" font-size="7.4" text-anchor="end" font-weight="normal" fill="#333"  stroke="#333" stroke-width="0.18">0</text>
<line x1="430.80" y1="265.50" x2="433.40" y2="265.50" stroke="#222" stroke-width="1.1"/>
<text x="427.50" y="267.60" font-size="7.4" text-anchor="end" font-weight="normal" fill="#333"  stroke="#333" stroke-width="0.18">1</text>
<line x1="430.80" y1="239.90" x2="433.40" y2="239.90" stroke="#222" stroke-width="1.1"/>
<text x="427.50" y="242.00" font-size="7.4" text-anchor="end" font-weight="normal" fill="#333"  stroke="#333" stroke-width="0.18">2</text>
<line x1="430.80" y1="214.30" x2="433.40" y2="214.30" stroke="#222" stroke-width="1.1"/>
<text x="427.50" y="216.40" font-size="7.4" text-anchor="end" font-weight="normal" fill="#333"  stroke="#333" stroke-width="0.18">3</text>
<line x1="432.90" y1="291.10" x2="509.60" y2="291.10" stroke="#222" stroke-width="1.1"/>
<line x1="445.70" y1="291.10" x2="445.70" y2="293.30" stroke="#222" stroke-width="1.1"/>
<line x1="463.20" y1="291.10" x2="463.20" y2="293.30" stroke="#222" stroke-width="1.1"/>
<line x1="480.80" y1="291.10" x2="480.80" y2="293.30" stroke="#222" stroke-width="1.1"/>
<line x1="498.40" y1="291.10" x2="498.40" y2="293.30" stroke="#222" stroke-width="1.1"/>
<text x="471.70" y="185.70" font-size="8.85" text-anchor="middle" font-weight="normal" fill="#222"  stroke="#222" stroke-width="0.18">Bone marrow</text>
<text transform="translate(447.00,299.90) rotate(-45)" font-size="7.6" text-anchor="end" font-weight="normal" fill="#333"  stroke="#333" stroke-width="0.18">Unstimulated</text>
<text transform="translate(464.50,299.90) rotate(-45)" font-size="7.6" text-anchor="end" font-weight="normal" fill="#333"  stroke="#333" stroke-width="0.18">Poly (I:C)</text>
<text transform="translate(482.10,299.90) rotate(-45)" font-size="7.6" text-anchor="end" font-weight="normal" fill="#333"  stroke="#333" stroke-width="0.18">Poly (A:U)</text>
<text transform="translate(499.70,299.90) rotate(-45)" font-size="7.6" text-anchor="end" font-weight="normal" fill="#333"  stroke="#333" stroke-width="0.18">5'pppdsRNA</text>
<text transform="translate(418.00,251.50) rotate(-90) scale(0.740,1)" font-size="8.2" font-weight="normal" text-anchor="middle" fill="#333" stroke="#333" stroke-width="0.28">Fold change</text>
<line x1="440.10" y1="265.50" x2="451.30" y2="265.50" stroke="#111" stroke-width="2.3" stroke-linecap="butt"/>
<circle cx="440.70" cy="265.50" r="1.15" fill="#111"/>
<circle cx="450.70" cy="265.50" r="1.15" fill="#111"/>
<circle cx="463.20" cy="242.20" r="1.55" fill="#111"/>
<circle cx="459.00" cy="254.49" r="1.55" fill="#111"/>
<circle cx="467.80" cy="254.49" r="1.55" fill="#111"/>
<circle cx="463.20" cy="255.77" r="1.55" fill="#111"/>
<circle cx="462.60" cy="260.38" r="1.55" fill="#111"/>
<circle cx="464.20" cy="262.43" r="1.55" fill="#111"/>
<circle cx="463.20" cy="264.22" r="1.55" fill="#111"/>
<circle cx="461.20" cy="257.82" r="1.55" fill="#111"/>
<line x1="463.20" y1="249.88" x2="463.20" y2="256.03" stroke="#111" stroke-width="0.9"/>
<line x1="460.40" y1="249.88" x2="466.00" y2="249.88" stroke="#111" stroke-width="0.9"/>
<path d="M480.80,235.84L482.30,238.54L479.30,238.54Z" fill="#111"/>
<path d="M477.30,243.52L478.80,246.22L475.80,246.22Z" fill="#111"/>
<path d="M485.00,241.73L486.50,244.43L483.50,244.43Z" fill="#111"/>
<path d="M476.60,247.36L478.10,250.06L475.10,250.06Z" fill="#111"/>
<path d="M485.00,247.36L486.50,250.06L483.50,250.06Z" fill="#111"/>
<path d="M480.80,250.69L482.30,253.39L479.30,253.39Z" fill="#111"/>
<path d="M480.80,257.60L482.30,260.30L479.30,260.30Z" fill="#111"/>
<line x1="480.80" y1="241.69" x2="480.80" y2="247.84" stroke="#111" stroke-width="0.9"/>
<line x1="478.00" y1="241.69" x2="483.60" y2="241.69" stroke="#111" stroke-width="0.9"/>
<circle cx="498.40" cy="273.95" r="1.55" fill="#111"/>
<circle cx="498.40" cy="277.79" r="1.55" fill="#111"/>
<circle cx="498.40" cy="281.37" r="1.55" fill="#111"/>
<line x1="498.40" y1="273.18" x2="498.40" y2="277.53" stroke="#111" stroke-width="0.9"/>
<line x1="495.60" y1="273.18" x2="501.20" y2="273.18" stroke="#111" stroke-width="0.9"/>
<path d="M445.00,233.40V228.80H462.60V233.40" fill="none" stroke="#2a2a2a" stroke-width="1.0"/>
<text x="453.80" y="228.40" font-size="7.5" text-anchor="middle" font-weight="bold" fill="#111" >*</text>
<path d="M445.00,219.10V214.50H480.50V219.10" fill="none" stroke="#2a2a2a" stroke-width="1.0"/>
<text x="462.75" y="214.10" font-size="7.5" text-anchor="middle" font-weight="bold" fill="#111" >****</text>
<path d="M445.00,205.10V200.50H498.00V205.10" fill="none" stroke="#2a2a2a" stroke-width="1.0"/>
<text x="471.50" y="200.10" font-size="7.5" text-anchor="middle" font-weight="bold" fill="#111" >**</text>
<rect x="0.5" y="0.5" width="519" height="337" fill="none" stroke="#666" stroke-width="1"/>
</svg></div></body></html>
